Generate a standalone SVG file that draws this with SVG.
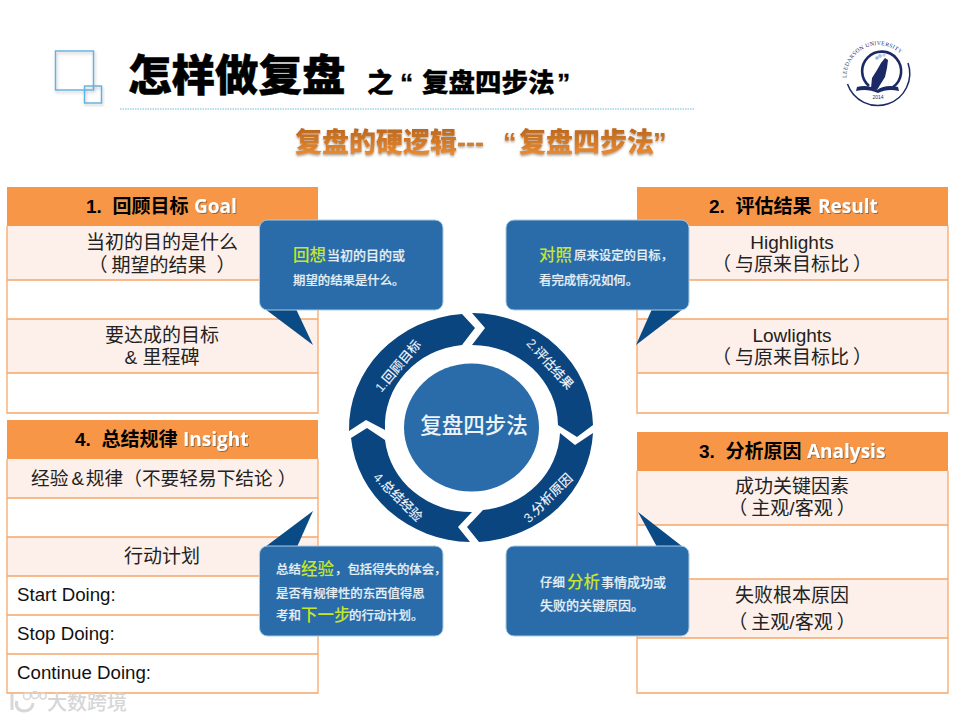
<svg xmlns="http://www.w3.org/2000/svg" width="960" height="720" viewBox="0 0 960 720">
<style>
text{font-family:"Liberation Sans","Noto Sans CJK SC",sans-serif}
.c{font-size:19px;fill:#222;text-anchor:middle}
.a{font-size:18.700px;fill:#222}
.l{font-size:18.700px;fill:#111}
.h{font-size:19px;font-weight:700;fill:#000;white-space:pre}
.e{font-family:"Open Sans","Liberation Sans",sans-serif;font-size:19px;font-weight:700;fill:#fff;filter:url(#ts)}
.hd{fill:#F79646}
.p{fill:#FDEFE9}
.w{fill:#fff}
.ln{fill:none;stroke:#F6A869;stroke-width:1.300}
.b{fill:#2A6CA9;stroke:#A9CBE2;stroke-width:1}
.t{fill:#0A4A85}
.s{fill:#0A4580}
.m{font-size:12.400px;font-weight:500;fill:#E6EEF5;stroke:#E6EEF5;stroke-width:.2}
.n{font-size:13px;font-weight:500;fill:#E6EEF5;stroke:#E6EEF5;stroke-width:.2}
.y{font-size:16.500px;font-weight:500;fill:#C6E52C}
.r{font-size:13px;font-weight:500;fill:#E6EEF5;text-anchor:middle}
.deco{fill:none;stroke:#5FB2E3;stroke-width:1.400;filter:url(#ds)}
.ti{font-weight:900;fill:#000;stroke:#000;stroke-width:.5}
.lg{fill:#1B2A66}
.lk{fill:none;stroke:#1B2A66}
</style>
<defs>
<filter id="ts" x="-10%" y="-20%" width="125%" height="150%"><feDropShadow dx="1" dy="1" stdDeviation="0.700" flood-color="#7a5a30" flood-opacity=".75"/></filter>
<filter id="ds" x="-20%" y="-20%" width="140%" height="140%"><feDropShadow dx="1" dy="2" stdDeviation="1.500" flood-color="#888" flood-opacity=".5"/></filter>
<filter id="ss" x="-5%" y="-20%" width="110%" height="150%"><feDropShadow dx="0" dy="1.500" stdDeviation="1" flood-color="#8a7460" flood-opacity=".7"/></filter>
<linearGradient id="og" x1="0" y1="0" x2="0" y2="1"><stop offset="0" stop-color="#B9661C"/><stop offset="1" stop-color="#EE8F35"/></linearGradient>
</defs>
<rect width="960" height="720" fill="#fff"/>

<g id="header">
<rect class="deco" x="55.500" y="51" width="38" height="39"/>
<rect class="deco" x="84.500" y="86" width="17" height="17"/>
<text class="ti" x="128" y="91" font-size="43.500">怎样做复盘</text>
<text class="ti" x="367" y="92" font-size="26.500" style="stroke-width:.3">之<tspan x="400" font-family="Liberation Sans">“</tspan><tspan x="422">复盘四步法</tspan><tspan x="557" font-family="Liberation Sans">”</tspan></text>
<line x1="120" y1="109" x2="695" y2="109" stroke="#6CBCDC" stroke-width="1" stroke-dasharray="1.500 1"/>
<text filter="url(#ss)" fill="url(#og)" font-weight="900" font-size="27" x="295" y="152">复盘的硬逻辑---<tspan x="503" font-family="Liberation Sans">“</tspan><tspan x="519">复盘四步法</tspan><tspan x="653" font-family="Liberation Sans">”</tspan></text>
</g>

<g id="logo">
<path class="lk" stroke-width="1.500" d="M847.500 84A32 32 0 0 0 908 63"/>
<path class="lk" stroke-width="2.600" d="M869 86A19.500 19.500 0 1 1 893 87"/>
<path class="lg" d="M871 88L872 78L877 70L881 63L885 58L888 60L887 68L885 77L880 85L877 90Z"/>
<circle cx="877" cy="58" r="1.800" fill="#9DB5D8"/><circle cx="880" cy="56" r="2" fill="#B4C8E3"/><circle cx="884" cy="55" r="1.800" fill="#C3D3E8"/>
<path class="lg" d="M857 87C864 85 872 86 877 90C882 86 891 85 898 87L899 91C891 89 884 90 878 93C871 90 864 89 856 91Z"/>
<text x="878" y="98.500" font-size="5" font-family="Liberation Serif" text-anchor="middle" class="lg">2014</text>
<path id="lp" d="M846.500 78A32 32 0 0 1 910 71.500" fill="none"/>
<text font-size="5.700" class="lg" letter-spacing=".3" style="font-family:'Liberation Serif'"><textPath href="#lp">LEEDARSON  UNIVERSITY</textPath></text>
</g>

<g id="table-goal">
<rect class="hd" x="7" y="187" width="311" height="39"/>
<rect class="p" x="7" y="226" width="311" height="54"/>
<rect class="w" x="7" y="280" width="311" height="39"/>
<rect class="p" x="7" y="319" width="311" height="54"/>
<rect class="w" x="7" y="373" width="311" height="40"/>
<path class="ln" d="M7 226V413H318V226M7 280H318M7 319H318M7 373H318"/>
<text class="h" x="86" y="213">1.  回顾目标</text>
<text class="e" x="194" y="213">Goal</text>
<text class="c" x="162" y="249">当初的目的是什么</text>
<text class="c" x="162" y="272">（<tspan dx="4">期望的结果</tspan><tspan dx="10">）</tspan></text>
<text class="c" x="162" y="342">要达成的目标</text>
<text class="c" x="162" y="364">&amp; 里程碑</text>
</g>

<g id="table-result">
<rect class="hd" x="637" y="187" width="311" height="39"/>
<rect class="p" x="637" y="226" width="311" height="54"/>
<rect class="w" x="637" y="280" width="311" height="39"/>
<rect class="p" x="637" y="319" width="311" height="54"/>
<rect class="w" x="637" y="373" width="311" height="40"/>
<path class="ln" d="M637 226V413H948V226M637 280H948M637 319H948M637 373H948"/>
<text class="h" x="709" y="213">2.  评估结果</text>
<text class="e" x="818" y="213">Result</text>
<text class="c" x="792" y="249">Highlights</text>
<text class="c" x="792" y="271">（<tspan dx="4">与原来目标比</tspan><tspan dx="4">）</tspan></text>
<text class="c" x="792" y="342">Lowlights</text>
<text class="c" x="792" y="364">（<tspan dx="4">与原来目标比</tspan><tspan dx="4">）</tspan></text>
</g>

<g id="table-insight">
<rect class="hd" x="7" y="420" width="311" height="39"/>
<rect class="p" x="7" y="459" width="311" height="39"/>
<rect class="w" x="7" y="498" width="311" height="39"/>
<rect class="p" x="7" y="537" width="311" height="39"/>
<rect class="w" x="7" y="576" width="311" height="117"/>
<path class="ln" d="M7 459V693H318V459M7 498H318M7 537H318M7 576H318M7 615H318M7 654H318"/>
<text class="h" x="75" y="446">4.  总结规律</text>
<text class="e" x="183" y="446">Insight</text>
<text class="a" x="31" y="485">经验<tspan dx="3">&amp;</tspan><tspan dx="2">规律</tspan>（不要轻易下结论<tspan dx="5">）</tspan></text>
<text class="c" x="162" y="563">行动计划</text>
<text class="l" x="17" y="601">Start Doing:</text>
<text class="l" x="17" y="640">Stop Doing:</text>
<text class="l" x="17" y="679">Continue Doing:</text>
</g>

<g id="table-analysis">
<rect class="hd" x="637" y="432" width="311" height="39"/>
<rect class="p" x="637" y="471" width="311" height="54"/>
<rect class="w" x="637" y="525" width="311" height="54"/>
<rect class="p" x="637" y="579" width="311" height="59"/>
<rect class="w" x="637" y="638" width="311" height="55"/>
<path class="ln" d="M637 471V693H948V471M637 525H948M637 579H948M637 638H948"/>
<text class="h" x="699" y="458">3.  分析原因</text>
<text class="e" x="807" y="458">Analysis</text>
<text class="c" x="792" y="493">成功关键因素</text>
<text class="c" x="792" y="515">（<tspan dx="4">主观/客观</tspan><tspan dx="4">）</tspan></text>
<text class="c" x="792" y="602">失败根本原因</text>
<text class="c" x="792" y="629">（<tspan dx="4">主观/客观</tspan><tspan dx="4">）</tspan></text>
</g>

<g id="connectors">
<path class="s" d="M349 431A122 115 0 0 1 462 314L475 328L462 345A86 81 0 0 0 385 430L366 420Z"/>
<path class="s" d="M472 313A122 115 0 0 1 593 425L577 437L558 425A86 81 0 0 0 472 345L485 328Z"/>
<path class="s" d="M593 433A122 115 0 0 1 479 542L467 527L483 510A86 81 0 0 0 560 433L575 445Z"/>
<path class="s" d="M470 542A122 115 0 0 1 351 438L367 428L385 440A86 81 0 0 0 472 512L458 527Z"/>
<text class="r" transform="translate(398 366) rotate(-50)" y="4.500">1.回顾目标</text>
<text class="r" transform="translate(550 364) rotate(48)" y="4.500">2.评估结果</text>
<text class="r" transform="translate(548 498) rotate(-45)" y="4.500">3.分析原因</text>
<text class="r" transform="translate(398 497) rotate(45)" y="4.500">4.总结经验</text>
</g>

<g id="hub">
<ellipse cx="471.500" cy="427.500" rx="67.500" ry="64" fill="#2A6CA9"/>
<text x="474" y="433" font-size="21.500" font-weight="500" fill="#EEF3F8" text-anchor="middle">复盘四步法</text>
</g>

<g id="callout-recall">
<path class="t" d="M265 309L313 345L296 309Z"/>
<rect class="b" x="259.500" y="220" width="183.500" height="90" rx="8"/>
<text class="y" x="293" y="261">回想</text>
<text class="n" x="327" y="260">当初的目的或</text>
<text class="m" x="293" y="285">期望的结果是什么。</text>
</g>
<g id="callout-compare">
<path class="t" d="M652 309L636 345L683 309Z"/>
<rect class="b" x="506" y="220" width="183" height="90" rx="8"/>
<text class="y" x="539" y="261">对照</text>
<text class="m" x="574" y="260">原来设定的目标，</text>
<text class="m" x="539" y="285">看完成情况如何。</text>
</g>
<g id="callout-analyze">
<path class="t" d="M638 512L657 547L683 547Z"/>
<rect class="b" x="506" y="546" width="183" height="90" rx="8"/>
<text class="m" x="540" y="587">仔细</text>
<text class="y" x="567" y="588">分析</text>
<text class="n" x="601" y="587">事情成功或</text>
<text class="n" x="540" y="610">失败的关键原因。</text>
</g>
<g id="callout-summary">
<path class="t" d="M313 511L265 547L297 547Z"/>
<rect class="b" x="259.500" y="546" width="183.500" height="90" rx="8"/>
<text class="m" x="276" y="574">总结</text>
<text class="y" x="301" y="575">经验</text>
<text class="m" x="335" y="574">，包括得失的体会，</text>
<text class="m" x="276" y="598">是否有规律性的东西值得思</text>
<text class="m" x="276" y="620">考和</text>
<text class="y" x="301" y="621">下一步</text>
<text class="m" x="349" y="620">的行动计划。</text>
</g>

<g id="watermark">
<path d="M12 694V710M17 701C15 706 18 711 24 711C30 711 33 707 33 703" fill="none" stroke="#D8D8D8" stroke-width="3"/>
<circle cx="27" cy="696" r="3.500" fill="none" stroke="#D8D8D8" stroke-width="1.500"/><circle cx="35" cy="695" r="3.500" fill="none" stroke="#D8D8D8" stroke-width="1.500"/><circle cx="43" cy="696" r="3" fill="none" stroke="#D8D8D8" stroke-width="1.500"/>
<text x="47" y="710" font-size="20" font-weight="500" fill="#D6D6D6">大数跨境</text>
</g>
</svg>
